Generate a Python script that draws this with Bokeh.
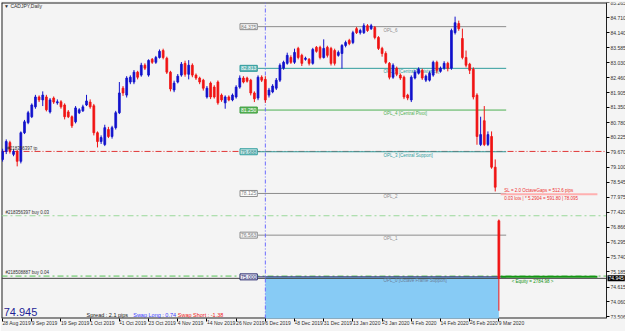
from bokeh.plotting import figure
from bokeh.models import (Range1d, FixedTicker, Label, NumeralTickFormatter,
                          ColumnDataSource, LinearAxis)
from bokeh.core.properties import value
from bokeh.embed import file_html
from bokeh.resources import INLINE

# ---------------- data ----------------
date_labels = ["28 Aug 2019", "9 Sep 2019", "19 Sep 2019", "1 Oct 2019", "11 Oct 2019",
               "23 Oct 2019", "4 Nov 2019", "14 Nov 2019", "26 Nov 2019", "6 Dec 2019",
               "18 Dec 2019", "31 Dec 2019", "13 Jan 2020", "23 Jan 2020", "4 Feb 2020",
               "14 Feb 2020", "26 Feb 2020", "9 Mar 2020"]
bars_per_label = 8

opens = [79.40, 79.70, 80.03, 79.59, 79.70, 79.33, 80.40, 80.78, 81.00, 81.37,
         81.74, 81.63, 81.74, 81.18, 81.70, 81.52, 81.56, 81.44, 81.18, 81.00,
         80.81, 81.15, 81.22, 81.44, 81.55, 81.41, 80.40, 80.07, 79.96, 80.52,
         80.26, 80.59, 81.15, 82.07, 81.81, 82.30, 82.30, 82.67, 82.56, 82.93,
         82.56, 83.15, 83.04, 83.22, 83.48, 83.19, 82.67, 82.00, 82.30, 82.56,
         83.00, 82.59, 82.93, 82.56, 82.45, 82.37, 81.74, 82.26, 82.11, 82.30,
         81.81, 81.52, 81.74, 81.63, 81.74, 82.11, 82.45, 82.45, 82.37, 81.89,
         81.70, 82.48, 82.40, 81.81, 81.93, 82.07, 82.37, 82.82, 83.00, 83.22,
         83.04, 83.56, 83.30, 83.15, 83.15, 83.00, 83.60, 83.60, 83.22, 83.60,
         83.56, 83.48, 83.30, 83.37, 83.67, 83.86, 83.78, 84.30, 84.15, 84.15,
         84.41, 84.30, 84.34, 83.97, 83.56, 83.37, 83.00, 82.48, 82.82, 82.56,
         82.48, 81.81, 81.63, 82.45, 82.63, 82.74, 82.37, 82.37, 82.56, 83.04,
         82.70, 82.82, 83.00, 82.82, 84.15, 84.49, 83.93, 83.22, 82.97, 82.78,
         81.81, 79.96, 80.85, 79.96, 80.26, 79.11, 77.10]
highs = [79.80, 80.15, 80.10, 79.78, 79.75, 80.45, 80.88, 81.22, 81.50, 81.82,
         81.80, 81.95, 81.82, 81.70, 81.76, 81.65, 81.62, 81.50, 81.25, 81.05,
         81.40, 81.32, 81.45, 81.82, 81.65, 81.48, 80.45, 80.30, 80.70, 80.62,
         80.66, 81.22, 82.30, 82.15, 82.52, 82.55, 82.75, 82.72, 83.02, 83.00,
         83.15, 83.20, 83.28, 83.52, 83.55, 83.25, 82.72, 82.35, 82.60, 83.05,
         83.10, 83.12, 83.00, 82.62, 82.50, 82.42, 82.15, 82.32, 82.18, 82.36,
         81.87, 81.80, 81.80, 81.87, 82.18, 82.55, 82.52, 82.50, 82.42, 81.95,
         82.55, 82.55, 82.52, 82.08, 82.22, 82.45, 83.00, 83.10, 83.40, 83.30,
         83.55, 83.62, 83.36, 83.25, 83.20, 83.58, 83.65, 83.66, 83.90, 83.66,
         83.62, 83.55, 83.48, 83.72, 83.85, 83.92, 84.22, 84.36, 84.30, 84.50,
         84.47, 84.48, 84.40, 84.02, 83.62, 83.45, 83.05, 83.00, 82.88, 82.62,
         82.54, 81.86, 82.55, 82.75, 82.85, 82.80, 82.58, 82.70, 83.10, 83.10,
         82.88, 83.08, 83.06, 84.30, 84.75, 84.60, 84.30, 83.48, 83.02, 82.85,
         81.88, 81.00, 81.40, 80.45, 80.45, 79.40, 77.15]
lows = [79.32, 79.60, 79.62, 79.52, 79.14, 79.25, 80.35, 80.72, 80.95, 81.30,
        81.55, 81.40, 81.20, 81.12, 81.48, 81.45, 81.30, 80.90, 80.95, 80.58,
        80.75, 81.10, 81.18, 81.40, 81.30, 80.30, 79.85, 79.98, 79.90, 80.20,
        80.18, 80.52, 81.10, 81.78, 81.72, 82.22, 82.22, 82.40, 82.50, 82.75,
        82.50, 82.98, 82.98, 83.18, 83.15, 82.60, 81.95, 81.92, 82.25, 82.50,
        82.50, 82.40, 82.48, 82.38, 82.22, 81.98, 81.68, 81.66, 81.68, 81.45,
        81.56, 81.30, 81.58, 81.58, 81.68, 82.05, 82.25, 82.28, 81.80, 81.55,
        81.62, 82.30, 81.52, 81.72, 81.88, 82.00, 82.30, 82.76, 82.95, 82.98,
        82.98, 83.15, 82.90, 83.10, 82.92, 82.95, 83.40, 83.15, 83.18, 83.22,
        82.92, 82.92, 83.25, 82.80, 83.60, 83.68, 83.72, 84.10, 84.08, 84.10,
        84.18, 84.25, 83.90, 83.50, 83.25, 82.98, 82.40, 82.42, 82.52, 82.38,
        81.66, 81.62, 81.55, 82.40, 82.58, 82.38, 82.30, 82.32, 82.50, 82.62,
        82.65, 82.76, 82.70, 82.76, 84.08, 84.22, 83.15, 82.85, 82.60, 81.65,
        79.95, 79.90, 79.90, 79.90, 79.05, 78.20, 73.73]
closes = [79.70, 80.07, 79.70, 79.70, 79.33, 80.40, 80.81, 81.15, 81.44, 81.74,
          81.63, 81.81, 81.26, 81.63, 81.55, 81.56, 81.37, 81.00, 81.00, 80.66,
          81.33, 81.26, 81.37, 81.59, 81.37, 80.40, 80.07, 80.22, 80.59, 80.26,
          80.59, 81.15, 81.89, 81.89, 82.45, 82.48, 82.67, 82.48, 82.93, 82.82,
          83.11, 83.04, 83.22, 83.45, 83.22, 82.67, 82.04, 82.26, 82.52, 82.97,
          82.59, 82.93, 82.56, 82.45, 82.30, 82.07, 82.07, 81.74, 81.74, 81.52,
          81.63, 81.74, 81.63, 81.81, 82.11, 82.45, 82.30, 82.33, 81.89, 81.67,
          82.48, 82.37, 81.63, 82.00, 82.15, 82.37, 82.93, 83.04, 83.30, 83.04,
          83.41, 83.22, 83.00, 83.19, 83.00, 83.52, 83.45, 83.22, 83.56, 83.30,
          83.00, 83.00, 83.41, 83.67, 83.78, 83.74, 84.15, 84.15, 84.23, 84.41,
          84.23, 84.41, 83.97, 83.56, 83.37, 83.04, 82.48, 82.93, 82.59, 82.45,
          81.74, 81.70, 82.48, 82.67, 82.78, 82.45, 82.52, 82.63, 83.04, 82.74,
          82.82, 83.00, 82.82, 84.23, 84.52, 84.30, 83.22, 82.93, 82.74, 81.74,
          80.26, 80.33, 79.96, 80.33, 79.11, 78.36, 74.945]

price_ticks = [85.265, 84.710, 84.140, 83.585, 83.030, 82.460, 81.905, 81.350, 80.780,
               80.225, 79.670, 79.100, 78.545, 77.975, 77.420, 76.866, 76.295, 75.740,
               75.185, 74.615, 74.060, 73.506]

opl_levels = [84.375, 82.813, 81.250, 79.688, 78.125, 76.563, 75.000]
opl_names = ["OPL_6", "OPL_5 [Central Resistance]", "OPL_4 [Central Pivot]",
             "OPL_3 [Central Support]", "OPL_2", "OPL_1", "OPL_0 [Octave Frame Support]"]
opl_label_text = ["84.375", "82.813", "81.250", "79.688", "78.125", "76.563", "75.000"]

bid = 74.945
tp_price = 79.70
buy1_price = 77.29
buy2_price = 75.03
sl_price = 78.095
equity_level = 75.00

# ---------------- figure ----------------
BG = "#f4f4f4"
UP = "#1212cc"
DN = "#f01414"
FONT = "Liberation Sans"
X0, X1 = -0.3, 165.5      # chart area (bar index units); price scale sits at X1
Y0, Y1 = 73.44, 85.28

n = len(closes)
idx = list(range(n))
colors = [UP if c >= o else DN for o, c in zip(opens, closes)]
src = ColumnDataSource(dict(
    x=idx, o=opens, h=highs, l=lows, c=closes,
    top=[max(o, c) for o, c in zip(opens, closes)],
    bot=[min(o, c) for o, c in zip(opens, closes)],
    col=colors))

p = figure(width=625, height=331, output_backend="svg", toolbar_location=None,
           x_range=Range1d(X0, 170.7), y_range=Range1d(Y0, Y1),
           y_axis_location=None, min_border_left=1, min_border_top=2,
           min_border_right=0, min_border_bottom=0)
p.background_fill_color = BG
p.border_fill_color = BG
p.outline_line_color = None
p.grid.visible = False

# price axis drawn at the right edge of the chart area
yax = LinearAxis(fixed_location=X1, ticker=FixedTicker(ticks=price_ticks),
                 formatter=NumeralTickFormatter(format="0.000"))
yax.major_label_text_font_size = "5px"
yax.major_label_text_font = FONT
yax.major_label_text_color = "#303030"
yax.major_tick_out = 3
yax.major_tick_in = 0
yax.minor_tick_out = 0
yax.minor_tick_in = 0
yax.major_label_standoff = 1
yax.axis_line_color = "#202020"
p.add_layout(yax, "right")

# date axis
xax = p.xaxis[0]
tick_pos = [i * bars_per_label for i in range(len(date_labels))]
xax.ticker = FixedTicker(ticks=tick_pos)
xax.major_label_overrides = {t: d for t, d in zip(tick_pos, date_labels)}
xax.major_label_text_font_size = "5px"
xax.major_label_text_font = FONT
xax.major_label_text_color = "#303030"
xax.major_label_orientation = -0.0001
xax.major_tick_out = 3
xax.major_tick_in = 0
xax.minor_tick_out = 0
xax.minor_tick_in = 0
xax.major_label_standoff = 1
xax.axis_line_color = None

# chart frame (left, top, bottom edges)
p.segment(x0=[X0, X0, X0], x1=[X1, X1, X0], y0=[Y1, Y0, Y0], y1=[Y1, Y0, Y1],
          line_color="#202020", line_width=2)

# light blue area from Dec 6 to last bar below OPL_0
p.quad(left=[72], right=[136], top=[opl_levels[-1]], bottom=[70.0],
       fill_color="#87cbf5", line_color=None)

# order / tp lines
for lvl, colr, dash in [(tp_price, "#e03535", "6 2 1 2"), (buy1_price, "#9ad89a", "6 3 2 3"),
                        (buy2_price, "#55c455", "6 3 2 3"), (bid, "#404040", "solid")]:
    p.segment(x0=[X0], x1=[X1], y0=[lvl], y1=[lvl], line_color=colr, line_dash=dash, line_width=1)

# OPL lines
opl_line_colors = ["#8c8c8c", "#2f9d9d", "#4caf50", "#2f9d9d", "#8c8c8c", "#8c8c8c", "#28286e"]
opl_text_colors = ["#8c8c8c", "#2f9d9d", "#4caf50", "#2f9d9d", "#8c8c8c", "#8c8c8c", "#6a7d95"]
p.segment(x0=[70] * 7, x1=[138] * 7, y0=opl_levels, y1=opl_levels,
          line_color=opl_line_colors, line_width=1)
p.text(x=[104.4] * 7, y=opl_levels, text=opl_names, text_color=opl_text_colors,
       text_font=value(FONT), text_font_size="4.5px", text_baseline="top",
       text_align="left", y_offset=1)

# vertical separator at Dec 6
p.segment(x0=[72], x1=[72], y0=[Y0], y1=[Y1], line_color="#6a6aff",
          line_dash="4 2 1 2", line_width=1)

# candles
p.segment(x0="x", y0="l", x1="x", y1="h", line_color="col", line_width=1, source=src)
p.vbar(x="x", top="top", bottom="bot", width=0.5, fill_color="col",
       line_color="col", line_width=0.8, source=src)

# SL line and equity line
p.segment(x0=[136.5], x1=[163], y0=[sl_price], y1=[sl_price], line_color="#ffb0b0", line_width=2)
p.segment(x0=[136.5], x1=[163], y0=[equity_level], y1=[equity_level], line_color="#139313", line_width=2)

# OPL price boxes
box_fill = ["#f4f4f4", "#62b5b5", "#5cb45c", "#bfe3e3", "#ffffff", "#f4f4f4", "#e8e8f4"]
box_line = ["#8c8c8c", "#2f9d9d", "#3f9f3f", "#2f9d9d", "#8c8c8c", "#8c8c8c", "#28286e"]
box_text = ["#808080", "#ffffff", "#ffffff", "#2f8d8d", "#808080", "#808080", "#28286e"]
for lv, t, bf, bl, bt in zip(opl_levels, opl_label_text, box_fill, box_line, box_text):
    p.add_layout(Label(x=69.8, y=lv, text=t, text_align="right", text_baseline="middle",
                       text_font=FONT, text_font_size="5px", text_color=bt,
                       background_fill_color=bf, border_line_color=bl, padding=1))

def lab(x, y, text, color, size="4.5px", baseline="bottom"):
    p.add_layout(Label(x=x, y=y, text=text, text_color=color, text_font_size=size,
                       text_font=FONT, text_baseline=baseline, text_align="left"))

lab(0.4, 85.25, "\u25bc CADJPY,Daily", "#303030", size="5px", baseline="top")
lab(1.3, tp_price + 0.03, "#218356397 tp", "#303030")
lab(0.8, buy1_price + 0.03, "#218356397 buy 0.03", "#303030")
lab(0.8, buy2_price + 0.04, "#218508887 buy 0.04", "#303030")
lab(137.5, sl_price + 0.06, "SL = 2.0 OctaveGaps = 512.6 pips", "#f03030")
lab(137.5, sl_price - 0.06, "0.03 lots | * 5.2904 = 591.80 | 78.095", "#f03030", baseline="top")
lab(139.5, equity_level - 0.09, "< Equity = 2784.98 >", "#139313", baseline="top")
lab(0.3, 73.68, "74.945", "#1f1f96", size="11px", baseline="alphabetic")
lab(23.0, 73.56, "Spread : 2.1 pips", "#202020", size="5.5px", baseline="alphabetic")
lab(35.8, 73.56, "Swap Long : 0.74", "#3a3aff", size="5.5px", baseline="alphabetic")
lab(48.0, 73.56, "Swap Short : -1.38", "#f02020", size="5.5px", baseline="alphabetic")

# current bid on the price scale
p.add_layout(Label(x=X1, y=bid, x_offset=1, text="74.945", text_align="left",
                   text_baseline="middle", text_font=FONT, text_font_size="5px",
                   text_color="#ffffff", background_fill_color="#000000", padding=1))

open("out.html", "w").write(file_html(p, INLINE))
